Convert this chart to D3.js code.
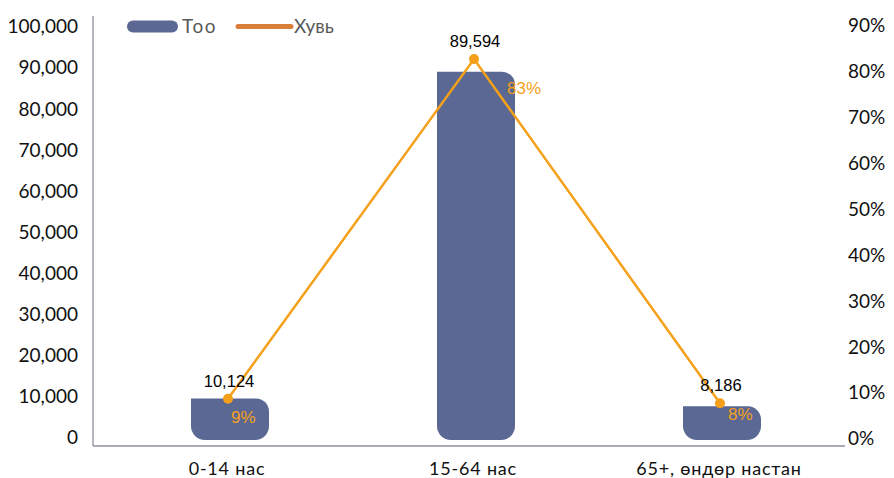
<!DOCTYPE html>
<html>
<head>
<meta charset="utf-8">
<script src="https://cdn.jsdelivr.net/npm/d3@7"></script>
<style>
  html, body { margin: 0; padding: 0; background: #fff; }
  svg { display: block; }
</style>
</head>
<body>
<svg id="chart" width="894" height="478"></svg>
<script>
// ---- data ----
const categories = ["0-14 нас", "15-64 нас", "65+, өндөр настан"];
const counts = [10124, 89594, 8186];
const shares = [0.09, 0.83, 0.08];
const countTicks = [0, 10000, 20000, 30000, 40000, 50000, 60000, 70000, 80000, 90000, 100000];
const shareTicks = [0, 0.1, 0.2, 0.3, 0.4, 0.5, 0.6, 0.7, 0.8, 0.9];
const legendLabels = ["Тоо", "Хувь"];

// ---- layout ----
const plotLeft = 93, plotRight = 845, zeroY = 440, axisY = 446;
const barColor = "#5A6893";
const lineColor = "#F5A01A";
const legendLineColor = "#D97F3A";
const tickFont = "Lato, 'Open Sans', sans-serif";
const labelFont = "'Liberation Sans', Arial, sans-serif";

const svg = d3.select("#chart");

const x = d3.scaleBand().domain(categories).range([107, 845]).padding(0);
const yL = d3.scaleLinear().domain([0, 100000]).range([zeroY, 29]);
const yR = d3.scaleLinear().domain([0, 0.9]).range([zeroY, 27]);
const barW = 78;
const cx = c => x(c) + x.bandwidth() / 2;

// axis lines
svg.append("line").attr("x1", plotLeft).attr("x2", plotLeft).attr("y1", 16).attr("y2", axisY)
  .attr("stroke", "#8F8FA3").attr("stroke-width", 1.3);
svg.append("line").attr("x1", plotLeft).attr("x2", plotRight).attr("y1", axisY).attr("y2", axisY)
  .attr("stroke", "#8F8FA3").attr("stroke-width", 1.3);

// left axis labels
const fmt = d3.format(",");
svg.append("g").selectAll("text").data(countTicks).join("text")
  .attr("x", 78).attr("y", d => yL(d) - 0.5)
  .attr("text-anchor", "end").attr("dominant-baseline", "middle")
  .attr("font-family", tickFont).attr("font-size", 19).attr("fill", "#111")
  .text(d => fmt(d));

// right axis labels
svg.append("g").selectAll("text").data(shareTicks).join("text")
  .attr("x", 848).attr("y", d => yR(d) + 0.5)
  .attr("text-anchor", "start").attr("dominant-baseline", "middle")
  .attr("font-family", tickFont).attr("font-size", 19).attr("fill", "#111")
  .text(d => d3.format(".0%")(d));

// x labels
svg.append("g").selectAll("text").data(categories).join("text")
  .attr("x", d => cx(d) - 3).attr("y", 475)
  .attr("text-anchor", "middle")
  .attr("font-family", tickFont).attr("font-size", 18).attr("fill", "#111")
  .attr("letter-spacing", 0.8)
  .text(d => d);

// bars with rounded corners (top-right, bottom-left, bottom-right)
function barPath(x0, top, w, bottom) {
  const h = bottom - top;
  const r = Math.min(14, h / 2, w / 2);
  const rt = Math.min(13, h / 2);
  return `M${x0},${top} H${x0 + w - rt} A${rt},${rt} 0 0 1 ${x0 + w},${top + rt}` +
    ` V${bottom - r} A${r},${r} 0 0 1 ${x0 + w - r},${bottom}` +
    ` H${x0 + r} A${r},${r} 0 0 1 ${x0},${bottom - r} Z`;
}
svg.append("g").selectAll("path").data(categories).join("path")
  .attr("d", (d, i) => barPath(cx(d) - barW / 2, yL(counts[i]), barW, yL(0)))
  .attr("fill", barColor);

// line
const line = d3.line().x((d, i) => cx(categories[i]) - 2).y(d => yR(d));
svg.append("path").datum(shares).attr("d", line)
  .attr("fill", "none").attr("stroke", lineColor).attr("stroke-width", 2.5);
svg.append("g").selectAll("circle").data(shares).join("circle")
  .attr("cx", (d, i) => cx(categories[i]) - 2).attr("cy", d => yR(d))
  .attr("r", 5).attr("fill", lineColor);

// count labels
svg.append("g").selectAll("text").data(counts).join("text")
  .attr("x", (d, i) => cx(categories[i]) - 1).attr("y", (d, i) => yR(shares[i]) - 12)
  .attr("text-anchor", "middle")
  .attr("font-family", labelFont).attr("font-size", 16.5).attr("fill", "#000")
  .text(d => fmt(d));

// percent labels (label nudges)
const pctDx = [1, 31, 6], pctDy = [24, 35, 17];
svg.append("g").selectAll("text").data(shares).join("text")
  .attr("x", (d, i) => cx(categories[i]) + pctDx[i]).attr("y", (d, i) => yR(d) + pctDy[i])
  .attr("text-anchor", "start")
  .attr("font-family", labelFont).attr("font-size", 17).attr("fill", lineColor)
  .text(d => d3.format(".0%")(d));

// legend
const lg = svg.append("g");
lg.append("rect").attr("x", 127).attr("y", 20.5).attr("width", 51).attr("height", 12)
  .attr("rx", 6).attr("fill", barColor);
lg.append("text").attr("x", 182).attr("y", 33)
  .attr("font-family", tickFont).attr("font-size", 19).attr("fill", "#595959")
  .attr("letter-spacing", 1.5).text(legendLabels[0]);
lg.append("line").attr("x1", 238).attr("x2", 291).attr("y1", 26.5).attr("y2", 26.5)
  .attr("stroke", legendLineColor).attr("stroke-width", 5).attr("stroke-linecap", "round");
lg.append("text").attr("x", 294).attr("y", 33)
  .attr("font-family", tickFont).attr("font-size", 19).attr("fill", "#595959")
  .text(legendLabels[1]);
</script>
</body>
</html>
